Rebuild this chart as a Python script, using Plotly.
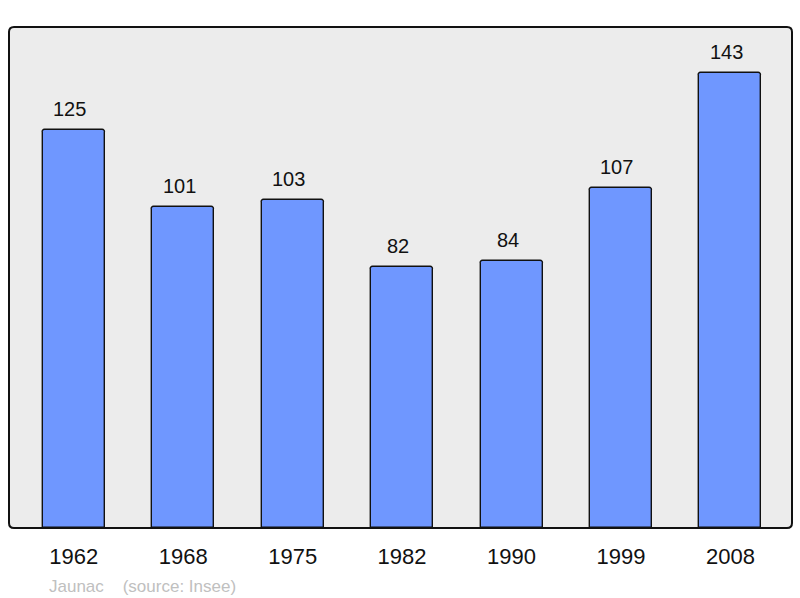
import plotly.graph_objects as go

years = ["1962", "1968", "1975", "1982", "1990", "1999", "2008"]
population = [125, 101, 103, 82, 84, 107, 143]
positions = list(range(len(years)))

fig = go.Figure()
fig.add_trace(go.Bar(
    x=positions, y=population, width=0.567,
    marker=dict(color="#6f97ff", line=dict(color="#111111", width=1.4), cornerradius=3),
    hoverinfo="x+y",
))

for xp, v in zip(positions, population):
    fig.add_annotation(x=xp, y=v, text=str(v), showarrow=False, yanchor="bottom",
                       yshift=8, xshift=-4, font=dict(size=20, color="#111111"))

fig.add_annotation(xref="paper", yref="paper", x=0.049, y=-0.116, xanchor="left", yanchor="middle",
                   text="Jaunac&nbsp;&nbsp;&nbsp;&nbsp;(source: Insee)", showarrow=False,
                   font=dict(size=17, color="#c0c0c0"))

# rounded frame around the plot area
rx, ry = 5 / 783, 5 / 501
frame = (f"M {rx},0 L {1 - rx},0 Q 1,0 1,{ry} L 1,{1 - ry} Q 1,1 {1 - rx},1 "
         f"L {rx},1 Q 0,1 0,{1 - ry} L 0,{ry} Q 0,0 {rx},0 Z")
fig.add_shape(type="path", path=frame, xref="paper", yref="paper",
              fillcolor="#ececec", line=dict(width=0), layer="below")
fig.add_shape(type="path", path=frame, xref="paper", yref="paper",
              line=dict(color="#111111", width=2), layer="above")

fig.update_layout(
    width=800, height=598,
    margin=dict(l=9, r=8, t=27, b=70),
    paper_bgcolor="white", plot_bgcolor="white",
    font=dict(family="Liberation Sans, Arial, sans-serif", color="#111111"),
    showlegend=False,
    bargap=0,
)
fig.update_xaxes(range=[-0.592, 6.563], tickvals=positions, ticktext=years,
                 tickfont=dict(size=22), showgrid=False, zeroline=False, ticklabelstandoff=13)
fig.update_yaxes(range=[0, 157.5], visible=False, showgrid=False)

fig.write_html("out.html", config={"displayModeBar": False},
               post_script="document.body.style.margin='0';")
